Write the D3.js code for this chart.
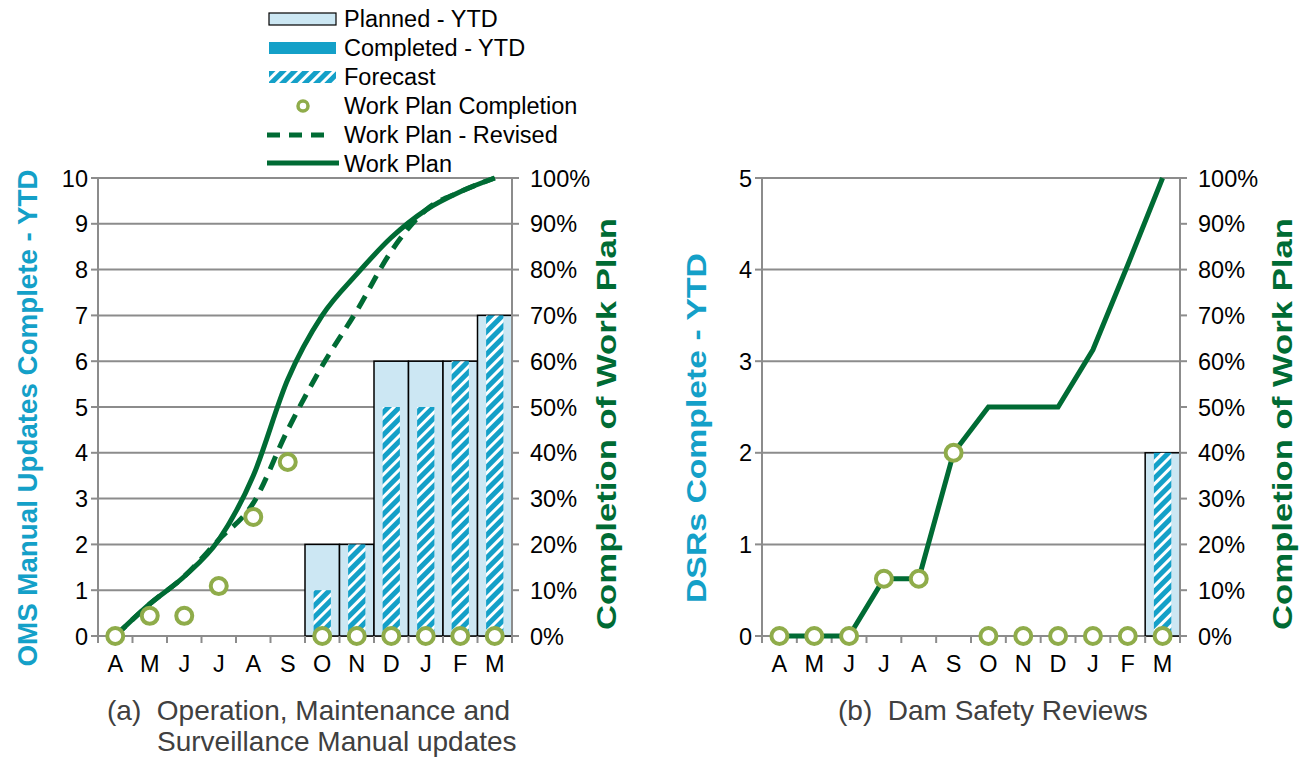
<!doctype html>
<html>
<head>
<meta charset="utf-8">
<title>work plan charts</title>
<script src="https://d3js.org/d3.v7.min.js"></script>
<style>
  body { margin: 0; background: #fff; }
  text { font-family: "Liberation Sans", Arial, sans-serif; fill: #000; white-space: pre; }
</style>
</head>
<body>
<svg id="chart" width="1304" height="759"></svg>
<script>
var months = ['A', 'M', 'J', 'J', 'A', 'S', 'O', 'N', 'D', 'J', 'F', 'M'];

// (a) OMS manual updates
var omsPlanned = [0, 0, 0, 0, 0, 0, 2, 2, 6, 6, 6, 7];
var omsCompleted = [0, 0, 0, 0, 0, 0, 0, 0, 0, 0, 0, 0];
var omsForecast = [0, 0, 0, 0, 0, 0, 1, 2, 5, 5, 6, 7];
var omsWorkPlan = [0, 7, 13, 21, 35, 56, 70, 79, 87, 93, 97, 100];
var omsRevised = [0, 7, 13, 21, 29, 45, 59, 71, 84, 93, 97, 100];
var omsCompletion = [0, 4.4, 4.4, 10.9, 26, 38, 0, 0, 0, 0, 0, 0];

// (b) Dam safety reviews
var dsrPlanned = [0, 0, 0, 0, 0, 0, 0, 0, 0, 0, 0, 2];
var dsrCompleted = [0, 0, 0, 0, 0, 0, 0, 0, 0, 0, 0, 0];
var dsrForecast = [0, 0, 0, 0, 0, 0, 0, 0, 0, 0, 0, 2];
var dsrWorkPlan = [0, 0, 0, 12.5, 12.5, 40, 50, 50, 50, 62.5, 81, 100];
var dsrCompletion = [0, 0, 0, 12.5, 12.5, 40, 0, 0, 0, 0, 0, 0];

var pctTicks = [0, 10, 20, 30, 40, 50, 60, 70, 80, 90, 100];
var legendLabels = ['Planned - YTD', 'Completed - YTD', 'Forecast', 'Work Plan Completion', 'Work Plan - Revised', 'Work Plan'];

var blue = '#14a0c8', light = '#cce7f3', green = '#006b34', olive = '#8fac4a', grid = '#8c8c8c';
var fs = 23.5;

var svg = d3.select('#chart');

var defs = svg.append('defs');
var pat = defs.append('pattern')
  .attr('id', 'hatch')
  .attr('patternUnits', 'userSpaceOnUse')
  .attr('width', 8).attr('height', 8)
  .attr('patternTransform', 'rotate(45)');
pat.append('rect').attr('width', 8).attr('height', 8).attr('fill', '#fff');
pat.append('rect').attr('width', 5).attr('height', 8).attr('fill', blue);

function rotTitle(x, cy, len, color, label) {
  svg.append('text')
    .attr('transform', 'translate(' + x + ',' + cy + ') rotate(-90)')
    .attr('text-anchor', 'middle').attr('font-size', 28.5).attr('font-weight', 'bold')
    .attr('textLength', len).attr('lengthAdjust', 'spacingAndGlyphs')
    .style('fill', color).text(label);
}

function drawChart(o) {
  var x = d3.scaleBand().domain(d3.range(months.length)).range([o.x0, o.x1]).padding(0);
  var y = d3.scaleLinear().domain([0, o.ymax]).range([636, 178]);
  var yp = d3.scaleLinear().domain([0, 100]).range([636, 178]);
  var g = svg.append('g');
  var cx = function(d, i) { return x(i) + x.bandwidth() / 2; };

  // gridlines
  g.selectAll('.grid').data(d3.range(0, o.ymax + 1)).enter().append('line')
    .attr('x1', o.x0).attr('x2', o.x1)
    .attr('y1', function(d) { return y(d); }).attr('y2', function(d) { return y(d); })
    .attr('stroke', grid).attr('stroke-width', 2);

  // bars
  var bw = x.bandwidth() * 0.5;
  o.planned.forEach(function(d, i) {
    if (d <= 0) return;
    g.append('rect')
      .attr('x', x(i)).attr('width', x.bandwidth())
      .attr('y', y(d)).attr('height', y(0) - y(d))
      .attr('fill', light).attr('stroke', '#000').attr('stroke-width', 1.5);
  });
  o.completed.forEach(function(d, i) {
    if (d <= 0) return;
    g.append('rect')
      .attr('x', x(i) + (x.bandwidth() - bw) / 2).attr('width', bw)
      .attr('y', y(d)).attr('height', y(0) - y(d))
      .attr('fill', blue);
  });
  o.forecast.forEach(function(d, i) {
    if (d <= 0) return;
    g.append('rect')
      .attr('x', x(i) + (x.bandwidth() - bw) / 2).attr('width', bw)
      .attr('y', y(d)).attr('height', y(0) - y(d))
      .attr('fill', 'url(#hatch)');
  });

  // axis lines
  g.append('line').attr('x1', o.x0).attr('x2', o.x0).attr('y1', 178).attr('y2', 636)
    .attr('stroke', grid).attr('stroke-width', 2);
  g.append('line').attr('x1', o.x1).attr('x2', o.x1).attr('y1', 178).attr('y2', 636)
    .attr('stroke', grid).attr('stroke-width', 2);

  // left ticks
  d3.range(0, o.ymax + 1).forEach(function(d) {
    g.append('line').attr('x1', o.x0 - 7).attr('x2', o.x0).attr('y1', y(d)).attr('y2', y(d))
      .attr('stroke', grid).attr('stroke-width', 2);
    g.append('text').attr('x', o.x0 - 10).attr('y', y(d) + 8.5)
      .attr('text-anchor', 'end').attr('font-size', fs).text(d);
  });
  // right ticks
  pctTicks.forEach(function(d) {
    g.append('line').attr('x1', o.x1).attr('x2', o.x1 + 7).attr('y1', yp(d)).attr('y2', yp(d))
      .attr('stroke', grid).attr('stroke-width', 2);
    g.append('text').attr('x', o.x1 + 18).attr('y', yp(d) + 8.5)
      .attr('font-size', fs).text(d + '%');
  });
  // x ticks and labels
  d3.range(months.length + 1).forEach(function(i) {
    var xx = i < months.length ? x(i) : o.x1;
    g.append('line').attr('x1', xx).attr('x2', xx).attr('y1', 636).attr('y2', 643)
      .attr('stroke', grid).attr('stroke-width', 2);
  });
  g.selectAll('.xl').data(months).enter().append('text')
    .attr('x', cx)
    .attr('y', 672).attr('text-anchor', 'middle').attr('font-size', fs)
    .text(function(d) { return d; });

  // lines
  var line = d3.line()
    .x(cx)
    .y(function(d) { return yp(d); })
    .curve(o.smooth ? d3.curveMonotoneX : d3.curveLinear);
  if (o.revised) {
    g.append('path').datum(o.revised).attr('d', line)
      .attr('fill', 'none').attr('stroke', green).attr('stroke-width', 5)
      .attr('stroke-dasharray', '14,9');
  }
  g.append('path').datum(o.workPlan).attr('d', line)
    .attr('fill', 'none').attr('stroke', green).attr('stroke-width', 5);

  // completion markers
  g.selectAll('.pt').data(o.completion).enter().append('circle')
    .attr('cx', cx)
    .attr('cy', function(d) { return yp(d); })
    .attr('r', 8).attr('fill', '#fff').attr('stroke', olive).attr('stroke-width', 4);

  rotTitle(o.lx, o.ly, o.llen, blue, o.leftTitle);
  rotTitle(o.rx, o.ry, 412, green, 'Completion of Work Plan');
}

drawChart({
  x0: 98, x1: 512, ymax: 10,
  planned: omsPlanned, completed: omsCompleted, forecast: omsForecast,
  workPlan: omsWorkPlan, revised: omsRevised, completion: omsCompletion,
  smooth: true,
  leftTitle: 'OMS Manual Updates Complete - YTD', lx: 37, ly: 418, llen: 497,
  rx: 616, ry: 424
});

drawChart({
  x0: 762, x1: 1180, ymax: 5,
  planned: dsrPlanned, completed: dsrCompleted, forecast: dsrForecast,
  workPlan: dsrWorkPlan, revised: null, completion: dsrCompletion,
  smooth: false,
  leftTitle: 'DSRs Complete - YTD', lx: 706, ly: 428, llen: 350,
  rx: 1292, ry: 424
});

// legend
var leg = svg.append('g');
var ly0 = 19, lstep = 29;
leg.append('rect').attr('x', 269).attr('y', ly0 - 6).attr('width', 67).attr('height', 12)
  .attr('fill', light).attr('stroke', '#000').attr('stroke-width', 1.2);
leg.append('rect').attr('x', 269).attr('y', ly0 + lstep - 6).attr('width', 67).attr('height', 12)
  .attr('fill', blue);
leg.append('rect').attr('x', 269).attr('y', ly0 + 2 * lstep - 6).attr('width', 67).attr('height', 12)
  .attr('fill', 'url(#hatch)');
leg.append('circle').attr('cx', 303).attr('cy', ly0 + 3 * lstep).attr('r', 5)
  .attr('fill', '#fff').attr('stroke', olive).attr('stroke-width', 3.5);
leg.append('line').attr('x1', 267).attr('x2', 333).attr('y1', ly0 + 4 * lstep).attr('y2', ly0 + 4 * lstep)
  .attr('stroke', green).attr('stroke-width', 5).attr('stroke-dasharray', '13,9');
leg.append('line').attr('x1', 267).attr('x2', 339).attr('y1', ly0 + 5 * lstep - 1).attr('y2', ly0 + 5 * lstep - 1)
  .attr('stroke', green).attr('stroke-width', 5);
legendLabels.forEach(function(t, i) {
  leg.append('text').attr('x', 344).attr('y', ly0 + i * lstep + 8).attr('font-size', fs).text(t);
});

// captions
var capColor = '#404040';
svg.append('text').attr('x', 107).attr('y', 720).attr('font-size', 28).style('fill', capColor)
  .text('(a)  Operation, Maintenance and');
svg.append('text').attr('x', 157).attr('y', 751).attr('font-size', 28).style('fill', capColor)
  .text('Surveillance Manual updates');
svg.append('text').attr('x', 838).attr('y', 720).attr('font-size', 28).style('fill', capColor)
  .text('(b)  Dam Safety Reviews');
</script>
</body>
</html>
